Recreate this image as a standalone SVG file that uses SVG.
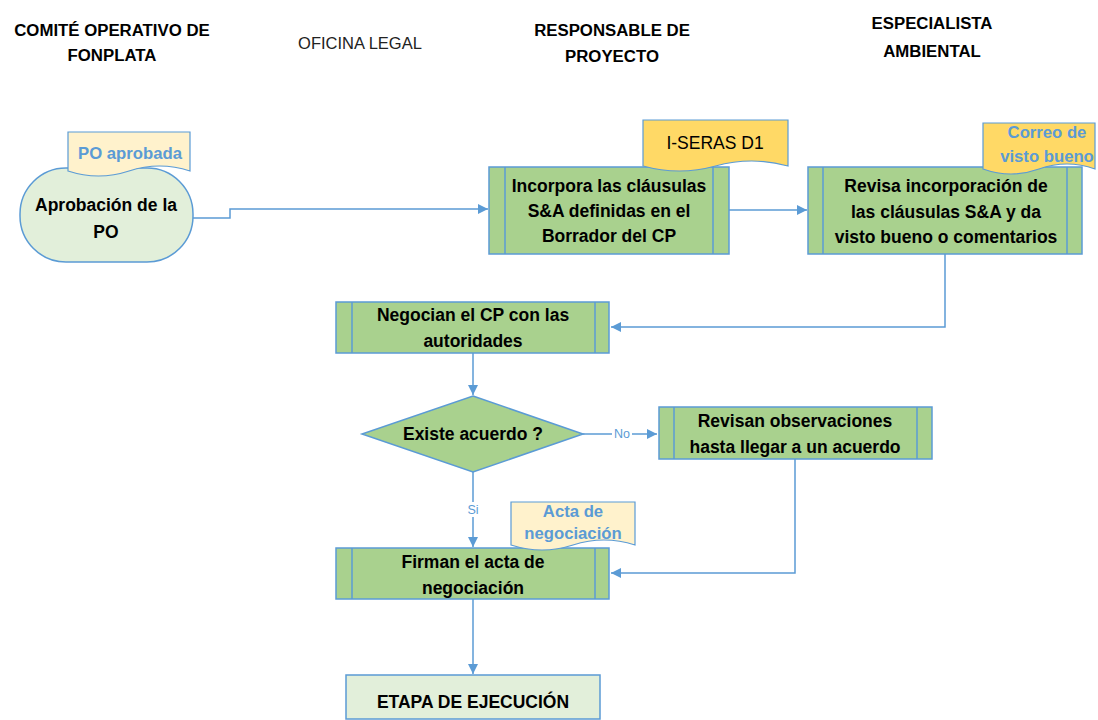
<svg xmlns="http://www.w3.org/2000/svg" width="1098" height="720" viewBox="0 0 1098 720">
<defs>
<marker id="arr" viewBox="0 0 10 10" refX="10" refY="5" markerWidth="10" markerHeight="10" markerUnits="userSpaceOnUse" orient="auto">
<path d="M0,0 L10,5 L0,10 Z" fill="#5B9BD5"/>
</marker>
<style>
text{font-family:"Liberation Sans",Arial,sans-serif;}
.hdr{font-size:16.8px;font-weight:bold;fill:#000;text-anchor:middle;}
.lbl{font-size:17.5px;font-weight:bold;fill:#000;text-anchor:middle;}
.doc{font-size:16.7px;font-weight:bold;fill:#5B9BD5;text-anchor:middle;}
.proc{fill:#A9D18E;stroke:#5B9BD5;stroke-width:1.5;}
.light{fill:#E2EFDA;stroke:#5B9BD5;stroke-width:1.5;}
.inner{stroke:#5B9BD5;stroke-width:1.5;fill:none;}
.ydoc{fill:#FFD966;stroke:#5B9BD5;stroke-width:1.2;}
.pdoc{fill:#FFF2CC;stroke:#5B9BD5;stroke-width:1.2;}
.conn{fill:none;stroke:#5B9BD5;stroke-width:1.5;}
.cl{font-size:12.5px;fill:#5B9BD5;text-anchor:middle;}
</style>
</defs>
<rect width="1098" height="720" fill="#fff"/>

<g id="headers">
<text class="hdr" x="112" y="36">COMITÉ OPERATIVO DE</text>
<text class="hdr" x="112" y="61">FONPLATA</text>
<text x="360" y="49" style="font-size:16.5px;fill:#222;text-anchor:middle;">OFICINA LEGAL</text>
<text class="hdr" x="612" y="36">RESPONSABLE DE</text>
<text class="hdr" x="612" y="62">PROYECTO</text>
<text class="hdr" x="932" y="29">ESPECIALISTA</text>
<text class="hdr" x="932" y="57">AMBIENTAL</text>
</g>

<g id="connectors">
<polyline class="conn" points="193,218 230,218 230,209 488,209" marker-end="url(#arr)"/>
<line class="conn" x1="729" y1="210" x2="807" y2="210" marker-end="url(#arr)"/>
<polyline class="conn" points="945,254 945,327 611,327" marker-end="url(#arr)"/>
<line class="conn" x1="473" y1="353" x2="473" y2="395" marker-end="url(#arr)"/>
<line class="conn" x1="583" y1="434" x2="657" y2="434" marker-end="url(#arr)"/>
<rect x="612" y="426" width="20" height="15" fill="#fff"/>
<text class="cl" x="622" y="438">No</text>
<line class="conn" x1="473" y1="472" x2="473" y2="547" marker-end="url(#arr)"/>
<rect x="466" y="502" width="14" height="15" fill="#fff"/>
<text class="cl" x="473" y="514">Si</text>
<polyline class="conn" points="795,459 795,573 611,573" marker-end="url(#arr)"/>
<line class="conn" x1="473" y1="599" x2="473" y2="674" marker-end="url(#arr)"/>
</g>

<g id="n-aprobacion">
<rect class="light" x="20" y="168" width="173" height="94" rx="46" ry="46"/>
<text class="lbl" x="106" y="211">Aprobación de la</text>
<text class="lbl" x="106" y="238">PO</text>
</g>
<g id="d-po-aprobada">
<path class="pdoc" d="M68,132 H190 V171 Q159.5,161 129,171 T68,171 Z"/>
<text class="doc" x="130" y="159">PO aprobada</text>
</g>

<g id="n-incorpora">
<rect class="proc" x="489" y="167" width="240" height="87"/>
<line class="inner" x1="505" y1="167" x2="505" y2="254"/>
<line class="inner" x1="713" y1="167" x2="713" y2="254"/>
<text class="lbl" x="609" y="192">Incorpora las cláusulas</text>
<text class="lbl" x="609" y="217">S&amp;A definidas en el</text>
<text class="lbl" x="609" y="242">Borrador del CP</text>
</g>
<g id="d-iseras">
<path class="ydoc" d="M643,120 H788 V166 Q751.75,156 715.5,166 T643,166 Z"/>
<text x="715" y="149" style="font-size:17.5px;fill:#000;text-anchor:middle;">I-SERAS D1</text>
</g>

<g id="n-revisa">
<rect class="proc" x="808" y="167" width="274" height="87"/>
<line class="inner" x1="823" y1="167" x2="823" y2="254"/>
<line class="inner" x1="1067" y1="167" x2="1067" y2="254"/>
<text class="lbl" x="946" y="192">Revisa incorporación de</text>
<text class="lbl" x="946" y="218">las cláusulas S&amp;A y da</text>
<text class="lbl" x="946" y="243">visto bueno o comentarios</text>
</g>
<g id="d-correo">
<path class="ydoc" d="M983,123 H1095 V169 Q1067,159 1039,169 T983,169 Z"/>
<text class="doc" x="1047" y="138">Correo de</text>
<text class="doc" x="1047" y="162">visto bueno</text>
</g>

<g id="n-negocian">
<rect class="proc" x="336" y="302" width="273" height="51"/>
<line class="inner" x1="352" y1="302" x2="352" y2="353"/>
<line class="inner" x1="595" y1="302" x2="595" y2="353"/>
<text class="lbl" x="473" y="321">Negocian el CP con las</text>
<text class="lbl" x="473" y="347">autoridades</text>
</g>

<g id="n-existe">
<polygon class="proc" points="473,396 583,434 473,472 362,434"/>
<text class="lbl" x="473" y="440">Existe acuerdo ?</text>
</g>

<g id="n-revisan">
<rect class="proc" x="659" y="407" width="273" height="52"/>
<line class="inner" x1="674" y1="407" x2="674" y2="459"/>
<line class="inner" x1="917" y1="407" x2="917" y2="459"/>
<text class="lbl" x="795" y="427">Revisan observaciones</text>
<text class="lbl" x="795" y="453">hasta llegar a un acuerdo</text>
</g>

<g id="n-firman">
<rect class="proc" x="336" y="548" width="273" height="51"/>
<line class="inner" x1="352" y1="548" x2="352" y2="599"/>
<line class="inner" x1="595" y1="548" x2="595" y2="599"/>
<text class="lbl" x="473" y="568">Firman el acta de</text>
<text class="lbl" x="473" y="594">negociación</text>
</g>
<g id="d-acta">
<path class="pdoc" d="M511,502 H635 V545 Q604,535 573,545 T511,545 Z"/>
<text class="doc" x="573" y="517">Acta de</text>
<text class="doc" x="573" y="539">negociación</text>
</g>

<g id="n-etapa">
<rect class="light" x="346" y="675" width="254" height="44"/>
<text class="lbl" x="473" y="708">ETAPA DE EJECUCIÓN</text>
</g>
</svg>
